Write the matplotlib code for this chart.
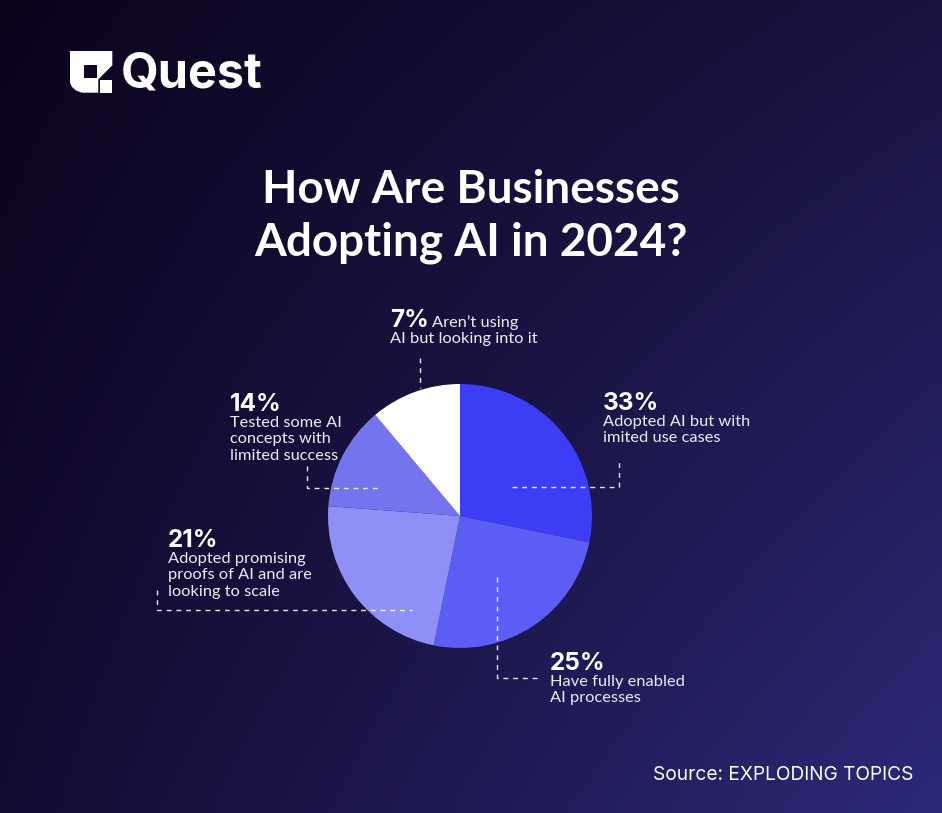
import matplotlib.pyplot as plt
import numpy as np
from matplotlib.patches import Polygon, Rectangle

W, H = 942, 813

# slice labels and the shares as they are drawn in the picture
percent_labels = ["33%", "25%", "21%", "14%", "7%"]
descriptions = [
    "Adopted AI but with\nimited use cases",
    "Have fully enabled\nAI processes",
    "Adopted promising\nproofs of AI and are\nlooking to scale",
    "Tested some AI\nconcepts with\nlimited success",
    "AI but looking into it",
]
slice_shares = [28.2, 25.0, 23.0, 12.7, 11.1]
slice_colors = ["#3d3df6", "#5c5df4", "#8f90f7", "#7374ee", "#ffffff"]

FONT = ["Inter", "DejaVu Sans"]
BODY = ["Lato", "DejaVu Sans"]


def main():
    fig = plt.figure(figsize=(W / 100, H / 100), dpi=100)
    ax = fig.add_axes([0, 0, 1, 1])

    # background gradient (bilinear between corner colours)
    def rgb(h):
        return np.array([int(h[i:i + 2], 16) for i in (1, 3, 5)]) / 255.0

    tl, tr, bl, br = rgb("#0c041d"), rgb("#1a1341"), rgb("#140b32"), rgb("#2b2a78")
    u = np.linspace(0, 1, 200)[None, :, None]
    v = np.linspace(0, 1, 180)[:, None, None]
    top = tl * (1 - u) + tr * u
    bot = bl * (1 - u) + br * u
    grad = top * (1 - v) + bot * v
    ax.imshow(grad, extent=(0, W, H, 0), aspect="auto", zorder=0, interpolation="bilinear")

    # logo icon
    icon = [(70, 51), (112.3, 51), (112.3, 65.3), (98.3, 79.3), (98.3, 92.7),
            (82, 92.7), (76, 90.5), (72, 87), (70, 82.7)]
    ax.add_patch(Polygon(icon, closed=True, fc="white", ec="none", zorder=3))
    ax.add_patch(Rectangle((84, 65.3), 13.3, 12.4, fc="#0e0620", ec="none", zorder=4))
    ax.add_patch(Rectangle((100, 80.5), 12.3, 12.2, fc="white", ec="none", zorder=4))
    ax.text(121, 88, "Quest", color="white", fontsize=35, fontweight="bold",
            family=FONT, ha="left", va="baseline", zorder=5)

    # title
    ax.text(471, 203, "How Are Businesses", color="white", fontsize=33,
            fontweight="bold", family=BODY, ha="center", va="baseline")
    ax.text(471, 255, "Adopting AI in 2024?", color="white", fontsize=33,
            fontweight="bold", family=BODY, ha="center", va="baseline")

    # pie (y axis is inverted, so counterclock here runs clockwise on screen)
    ax.pie(slice_shares, colors=slice_colors, center=(460, 516), radius=132,
           startangle=-90, counterclock=True, frame=True,
           wedgeprops=dict(linewidth=0, zorder=2))
    ax.set_xlim(0, W)
    ax.set_ylim(H, 0)
    ax.set_aspect("auto")
    ax.axis("off")

    # labels
    pct_kw = dict(color="white", fontsize=17.5, fontweight="bold", family=FONT,
                  ha="left", va="baseline")
    txt_kw = dict(color="#ececf4", fontsize=11.8, family=BODY, ha="left",
                  va="top", linespacing=1.22)
    label_pos = [(603, 410), (550, 670), (168, 547), (230, 411), (390, 327)]
    for (x, y), p, d in zip(label_pos, percent_labels, descriptions):
        ax.text(x, y, p, **pct_kw)
        if p == "7%":
            ax.text(432, y, "Aren’t using", color="#ececf4", fontsize=11.8,
                    family=BODY, ha="left", va="baseline")
        ax.text(x, y + 5, d, **txt_kw)

    # dashed leader lines
    ln = dict(color="white", lw=1, ls=(0, (3.5, 3.5)), alpha=0.9, zorder=3)
    ax.plot([420, 420], [358, 388], **ln)
    ax.plot([307, 307, 380], [466, 488, 488], **ln)
    ax.plot([157, 157, 412], [590, 610, 610], **ln)
    ax.plot([512, 619, 619], [487, 487, 458], **ln)
    ax.plot([497, 497, 540], [577, 678, 678], **ln)

    ax.text(913, 780, "Source: EXPLODING TOPICS", color="white", fontsize=13.8,
            family=FONT, ha="right", va="baseline")

    fig.savefig("out.png", dpi=100)


if __name__ == "__main__":
    main()
